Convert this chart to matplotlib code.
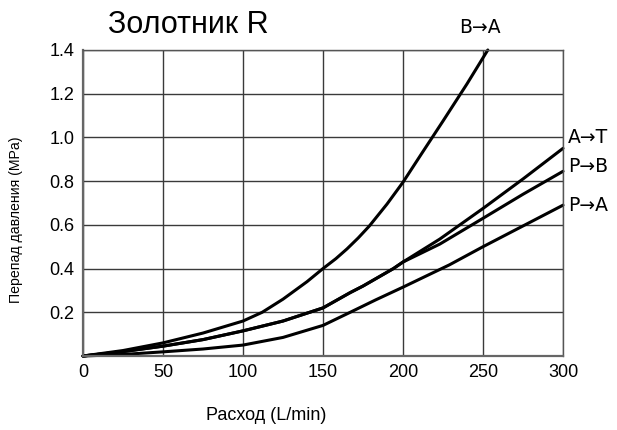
import matplotlib
matplotlib.use("Agg")
import matplotlib.pyplot as plt

# Data (flow L/min, pressure drop MPa)
x_ba = [0, 25, 50, 75, 100, 112, 125, 140, 150, 158, 165, 172, 179, 190, 200, 212, 225, 240, 253]
y_ba = [0, 0.025, 0.06, 0.105, 0.16, 0.20, 0.26, 0.34, 0.40, 0.445, 0.49, 0.54, 0.595, 0.695, 0.795, 0.93, 1.075, 1.245, 1.40]

x_at = [0, 25, 50, 75, 100, 125, 150, 167, 175, 194, 200, 223, 250, 275, 300]
y_at = [0, 0.02, 0.045, 0.075, 0.115, 0.16, 0.22, 0.29, 0.32, 0.40, 0.43, 0.535, 0.675, 0.81, 0.95]

x_pb = [0, 25, 50, 75, 100, 125, 150, 167, 175, 194, 200, 223, 250, 275, 300]
y_pb = [0, 0.02, 0.045, 0.075, 0.115, 0.16, 0.22, 0.29, 0.32, 0.40, 0.43, 0.512, 0.63, 0.74, 0.845]

x_pa = [0, 25, 50, 75, 100, 125, 150, 167, 183, 200, 229, 250, 275, 300]
y_pa = [0, 0.007, 0.019, 0.032, 0.05, 0.085, 0.14, 0.20, 0.257, 0.315, 0.417, 0.50, 0.595, 0.69]

series = [("B→A", x_ba, y_ba), ("A→T", x_at, y_at), ("P→B", x_pb, y_pb), ("P→A", x_pa, y_pa)]

x_ticks = [0, 50, 100, 150, 200, 250, 300]
y_ticks = [0.2, 0.4, 0.6, 0.8, 1.0, 1.2, 1.4]
y_tick_labels = ["0.2", "0.4", "0.6", "0.8", "1.0", "1.2", "1.4"]

title = "Золотник R"
xlabel = "Расход (L/min)"
ylabel = "Перепад давления (MPa)"

narrow = ["Liberation Sans Narrow", "Liberation Sans", "DejaVu Sans"]
regular = ["Liberation Sans", "DejaVu Sans"]
arrowfont = ["DejaVu Sans"]

fig = plt.figure(figsize=(6.17, 4.30), dpi=100)
ax = fig.add_axes([83 / 617, 1 - 356 / 430, (563 - 83) / 617, (356 - 50) / 430])

ax.set_xlim(0, 300)
ax.set_ylim(0, 1.4)
ax.set_xticks(x_ticks)
ax.set_yticks(y_ticks)
ax.set_xticklabels([str(v) for v in x_ticks], fontfamily=narrow, fontsize=13)
ax.set_yticklabels(y_tick_labels, fontfamily=narrow, fontsize=13)
ax.tick_params(length=0, pad=6)

ax.grid(True, color="#3a3a3a", linewidth=1.0)
ax.set_axisbelow(True)
for s in ["top", "right"]:
    ax.spines[s].set_color("#555555")
    ax.spines[s].set_linewidth(1.0)
for s in ["left", "bottom"]:
    ax.spines[s].set_color("#666666")
    ax.spines[s].set_linewidth(1.6)

for name, xs, ys in series:
    ax.plot(xs, ys, color="black", linewidth=2.2, solid_capstyle="round", solid_joinstyle="round", clip_on=False)

# curve labels
ax.text(248, 1.505, "B→A", fontfamily=arrowfont, fontsize=13.5, ha="center", va="center")
ax.text(303, 1.0, "A→T", fontfamily=arrowfont, fontsize=13.5, ha="left", va="center")
ax.text(303, 0.865, "P→B", fontfamily=arrowfont, fontsize=13.5, ha="left", va="center")
ax.text(303, 0.69, "P→A", fontfamily=arrowfont, fontsize=13.5, ha="left", va="center")

fig.text(188 / 617, 1 - 25 / 430, title, fontfamily=regular, fontsize=22, ha="center", va="center")
fig.text(266 / 617, 1 - 416 / 430, xlabel, fontfamily=regular, fontsize=13, ha="center", va="center")
fig.text(16 / 617, 1 - 220 / 430, ylabel, fontfamily=regular, fontsize=10.2, ha="center", va="center", rotation=90)

fig.savefig("out.png", dpi=100)
